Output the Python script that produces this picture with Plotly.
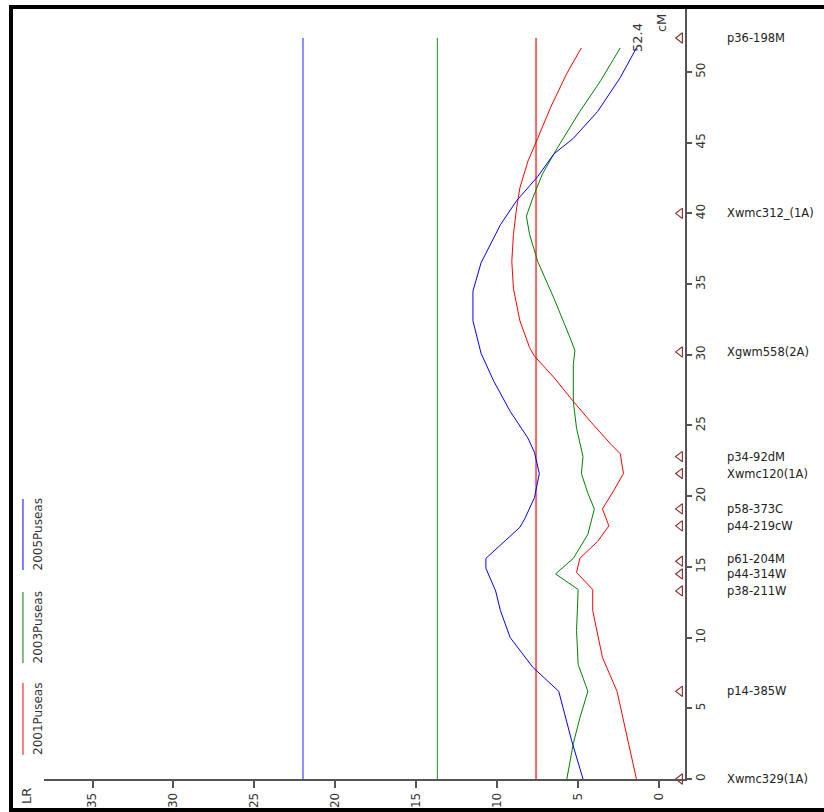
import plotly.graph_objects as go

# ---------------- data ----------------
series_names = ["2001Puseas", "2003Puseas", "2005Puseas"]
series_colors = ["#ff0000", "#008000", "#0000ff"]

cm_2001 = [0, 3.2, 6.2, 8.6, 10.3, 11.9, 13.4, 14.6, 15.6, 16.8, 17.9, 19.1, 20.4, 21.6, 23.0,
           23.7, 25.1, 26.7, 28.4, 29.9, 30.5, 32.4, 34.7, 36.6, 38.5, 40.4, 41.8, 43.7, 45.3,
           47.5, 49.9, 51.7]
lr_2001 = [1.4, 2.0, 2.6, 3.5, 3.8, 4.1, 4.1, 5.1, 4.9, 3.8, 3.1, 3.5, 2.8, 2.2, 2.4,
           3.0, 4.1, 5.3, 6.5, 7.7, 8.0, 8.6, 9.0, 9.1, 9.0, 8.8, 8.6, 8.1, 7.5,
           6.7, 5.7, 4.8]

cm_2003 = [0, 2.5, 4.3, 6.2, 8.1, 10.5, 13.4, 14.5, 15.6, 17.3, 19.1, 20.2, 21.6, 22.8, 24.8,
           26.7, 29.3, 30.3, 31.2, 34.0, 36.6, 38.5, 39.8, 41.1, 42.8, 44.6, 47.2, 49.4, 51.7]
lr_2003 = [5.7, 5.3, 4.9, 4.4, 5.0, 5.1, 5.0, 6.4, 5.3, 4.4, 4.0, 4.4, 4.8, 4.7, 5.1,
           5.3, 5.3, 5.2, 5.5, 6.5, 7.5, 8.0, 8.2, 7.8, 7.2, 6.3, 4.9, 3.6, 2.4]

cm_2005 = [0, 2.7, 6.2, 7.9, 10.0, 11.9, 13.3, 14.9, 15.6, 17.0, 17.8, 18.4, 19.9, 21.6, 23.1,
           24.1, 26.0, 28.1, 30.1, 32.4, 34.5, 36.5, 39.2, 40.9, 42.6, 44.2, 45.3, 47.2, 49.6, 51.7]
lr_2005 = [4.7, 5.4, 6.2, 7.8, 9.2, 9.8, 10.1, 10.7, 10.7, 9.4, 8.6, 8.3, 7.7, 7.4, 7.7,
           8.1, 9.2, 10.2, 11.0, 11.5, 11.5, 11.0, 9.8, 8.8, 7.5, 6.5, 5.3, 3.8, 2.4, 1.4]

thresholds = [7.6, 13.7, 22.0]          # LR thresholds for 2001, 2003, 2005
chrom_length = 52.4

marker_names = ["Xwmc329(1A)", "p14-385W", "p38-211W", "p44-314W", "p61-204M", "p44-219cW",
                "p58-373C", "Xwmc120(1A)", "p34-92dM", "Xgwm558(2A)", "Xwmc312_(1A)", "p36-198M"]
marker_cm = [0, 6.2, 13.3, 14.5, 15.4, 17.9, 19.1, 21.6, 22.8, 30.2, 40.0, 52.4]

lr_ticks = [0, 5, 10, 15, 20, 25, 30, 35]
cm_ticks = [0, 5, 10, 15, 20, 25, 30, 35, 40, 45, 50]

# ---------------- layout constants ----------------
FONT = "DejaVu Sans, Verdana, sans-serif"
Y_RANGE = [0, 54.45]
PLOT_H = 770  # plot-area height in px
PX_PER_CM = PLOT_H / (Y_RANGE[1] - Y_RANGE[0])

fig = go.Figure()

curves = [(cm_2001, lr_2001), (cm_2003, lr_2003), (cm_2005, lr_2005)]
thr_styles = [dict(color="#ff6464", width=2), dict(color="#119911", width=1),
              dict(color="#2222ff", width=1)]

for i in range(3):
    fig.add_trace(go.Scatter(x=[thresholds[i], thresholds[i]], y=[0, chrom_length],
                             mode="lines", line=thr_styles[i], showlegend=False,
                             hoverinfo="skip"))
for i, (cm, lr) in enumerate(curves):
    fig.add_trace(go.Scatter(x=lr, y=cm, mode="lines", name=series_names[i],
                             line=dict(color=series_colors[i], width=1),
                             showlegend=False))

# marker triangles on the map axis
fig.add_trace(go.Scatter(x=[-1.3] * len(marker_cm), y=marker_cm, mode="markers",
                         marker=dict(symbol="triangle-left-open", size=9,
                                     color="#8b2a2a", line=dict(width=1.1, color="#8b2a2a")),
                         cliponaxis=False, showlegend=False, hoverinfo="skip"))

# marker labels, spread apart so they never collide
annotations = []
order = sorted(range(len(marker_cm)), key=lambda k: marker_cm[k])
prev_px = None
MIN_GAP = 15
for k in order:
    px = marker_cm[k] * PX_PER_CM
    shift = 0
    if prev_px is not None and px - prev_px < MIN_GAP:
        shift = prev_px + MIN_GAP - px
    prev_px = px + shift
    annotations.append(dict(x=-1.6, y=marker_cm[k], xref="x", yref="y", text=marker_names[k],
                            showarrow=False, xanchor="left", yanchor="middle",
                            xshift=40, yshift=shift,
                            font=dict(family=FONT, size=11.5, color="#222")))

# rotated text labels
annotations += [
    dict(x=0.925, y=0.9636, xref="paper", yref="paper", text=str(chrom_length),
         textangle=-90, showarrow=False, xanchor="center", yanchor="middle",
         font=dict(family=FONT, size=13, color="#333")),
    dict(x=0.9626, y=0.9818, xref="paper", yref="paper", text="cM",
         textangle=-90, showarrow=False, xanchor="center", yanchor="middle",
         font=dict(family=FONT, size=13, color="#333")),
    dict(x=-0.0265, y=-0.022, xref="paper", yref="paper", text="LR",
         textangle=-90, showarrow=False, xanchor="center", yanchor="middle",
         font=dict(family=FONT, size=13, color="#333")),
]

# rotated legend
leg_y = [(0.0312, 0.1247), (0.1506, 0.2429), (0.2714, 0.3636)]
shapes = []
for i, (y0, y1) in enumerate(leg_y):
    shapes.append(dict(type="line", xref="paper", yref="paper", x0=-0.0328, x1=-0.0328,
                       y0=y0, y1=y1, line=dict(color=series_colors[i], width=1)))
    annotations.append(dict(x=-0.0094, y=(y0 + y1) / 2, xref="paper", yref="paper",
                            text=series_names[i], textangle=-90, showarrow=False,
                            xanchor="center", yanchor="middle",
                            font=dict(family=FONT, size=12, color="#333")))

# black frame
shapes.append(dict(type="rect", xref="paper", yref="paper", x0=-0.0515, x1=1.4,
                   y0=-0.0403, y1=1.0026, line=dict(color="black", width=4),
                   fillcolor="rgba(0,0,0,0)", layer="above"))

fig.update_layout(
    width=824, height=812,
    margin=dict(l=44, r=139, t=9, b=33, autoexpand=False),
    paper_bgcolor="white", plot_bgcolor="white",
    font=dict(family=FONT, size=12, color="#333"),
    showlegend=False,
    annotations=annotations,
    shapes=shapes,
    xaxis=dict(range=[38, -1.6], tickvals=lr_ticks, ticktext=[str(v) for v in lr_ticks],
               ticks="outside", ticklen=7, tickwidth=2, tickcolor="#555",
               showline=True, linecolor="#555", linewidth=2, showgrid=False,
               zeroline=False, tickangle=-90, tickfont=dict(size=12),
               ticklabelstandoff=0, automargin=False),
    yaxis=dict(range=Y_RANGE, tickvals=cm_ticks, ticktext=[str(v) for v in cm_ticks],
               side="right", ticks="outside", ticklen=5, tickwidth=2, tickcolor="#555",
               showline=True, linecolor="#555", linewidth=2, showgrid=False,
               zeroline=False, tickangle=-90, tickfont=dict(size=12),
               ticklabelstandoff=-1, automargin=False),
)

fig.write_html("out.html", config={"displayModeBar": False},
               post_script="document.body.style.margin='0';document.body.style.overflow='hidden';")
